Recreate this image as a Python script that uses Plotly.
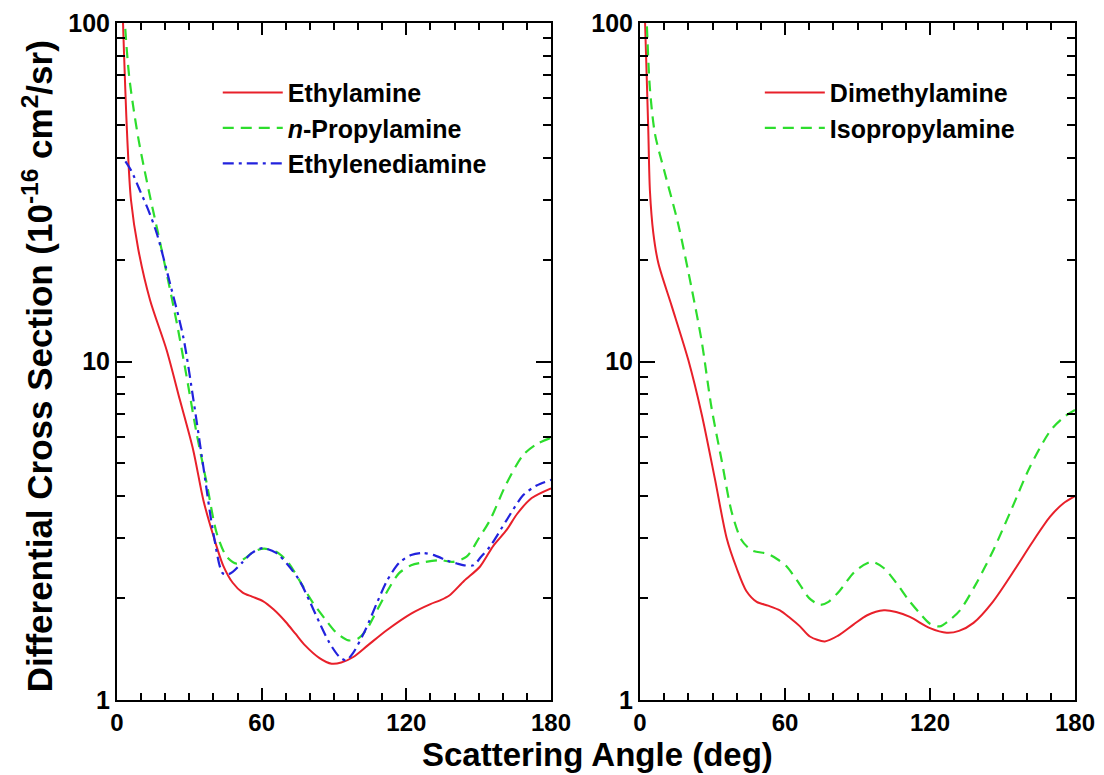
import plotly.graph_objects as go

# ---- data ----
ethylamine_x = [1, 2.5, 3.5, 4.3, 5.8, 8.8, 13.7, 20.6, 26.1, 31.6, 35.8, 40, 44, 48, 52, 56, 60.5, 65, 70, 74, 78, 84, 89, 93, 98, 104, 112, 122, 130, 134, 138, 144, 150.6, 156, 161.6, 166, 172, 180]
ethylamine_y = [250, 100, 62, 45, 30, 21.5, 15.2, 10.8, 7.69, 5.48, 3.9, 3.05, 2.5, 2.22, 2.08, 2.02, 1.96, 1.85, 1.7, 1.57, 1.45, 1.33, 1.28, 1.29, 1.34, 1.45, 1.61, 1.8, 1.92, 1.97, 2.04, 2.25, 2.48, 2.85, 3.18, 3.55, 3.95, 4.22]

npropyl_x = [2, 3.3, 5, 7, 9, 11, 14, 17, 20.6, 24.8, 28.9, 33, 37.2, 41.4, 45.5, 49.6, 53, 57, 61, 66, 71, 75.6, 81, 86.7, 91, 96, 100, 103.4, 108, 113, 117, 122, 127, 134, 139.4, 145, 150, 154.7, 161.6, 168.5, 174, 180]
npropyl_y = [200, 100, 70, 55, 45, 38, 30, 24, 18.2, 13, 9.0, 6.14, 4.37, 3.1, 2.65, 2.53, 2.62, 2.75, 2.8, 2.74, 2.55, 2.26, 1.95, 1.72, 1.58, 1.50, 1.52, 1.61, 1.85, 2.15, 2.37, 2.5, 2.55, 2.59, 2.56, 2.65, 3.0, 3.4, 4.37, 5.3, 5.7, 5.95]

ethylened_x = [3.5, 6, 9.5, 13, 16.5, 22, 27.5, 31.7, 35.8, 40, 43.8, 46, 48, 52, 56, 60.3, 66, 71, 75.6, 80, 84, 88, 92.3, 95, 98, 103, 108, 112, 117, 122, 126.8, 132, 137, 141, 144, 147.8, 151, 154.7, 161.6, 168.5, 174, 180]
ethylened_y = [39, 36.5, 32, 28, 23.9, 17, 11.8, 7.7, 4.89, 3.1, 2.37, 2.35, 2.39, 2.55, 2.72, 2.81, 2.72, 2.5, 2.26, 1.95, 1.69, 1.48, 1.34, 1.31, 1.38, 1.61, 1.95, 2.25, 2.54, 2.68, 2.72, 2.67, 2.58, 2.53, 2.5, 2.5, 2.65, 2.84, 3.4, 4.03, 4.3, 4.47]

dimethyl_x = [1, 2.1, 3.4, 4.1, 5.5, 7.6, 13.1, 20, 25.5, 31, 35.9, 40, 44, 48.3, 53, 57.9, 62, 66.2, 70.3, 76.5, 82, 88.3, 94, 100.9, 106, 111.7, 120, 126.9, 132, 138, 146, 155.9, 162, 169.7, 175, 180]
dimethyl_y = [180, 100, 49, 32, 24, 19.5, 14.6, 10.1, 7.0, 4.5, 3.0, 2.45, 2.1, 1.95, 1.9, 1.84, 1.75, 1.65, 1.54, 1.49, 1.55, 1.67, 1.78, 1.84, 1.82, 1.76, 1.63, 1.58, 1.6, 1.69, 1.95, 2.48, 2.9, 3.48, 3.8, 4.0]

isopropyl_x = [1.5, 2.8, 4.1, 6.2, 10.3, 15.8, 21.4, 25.5, 29.6, 33.8, 37.9, 42, 46.2, 53, 57, 60.7, 66, 70, 74.5, 78, 82.8, 89, 95.9, 101, 106.2, 111, 115.9, 120, 124, 128, 132.4, 139, 146.2, 154, 161.4, 170, 176, 180]
isopropyl_y = [180, 100, 64, 47, 36, 25.5, 16.4, 11.5, 7.3, 5.1, 3.6, 2.97, 2.77, 2.7, 2.6, 2.48, 2.2, 2.0, 1.91, 1.95, 2.11, 2.4, 2.56, 2.45, 2.21, 1.98, 1.8, 1.68, 1.65, 1.72, 1.84, 2.2, 2.77, 3.7, 4.89, 6.27, 6.9, 7.19]

x_tickvals = [0, 60, 120, 180]
x_minor = [10, 20, 30, 40, 50, 70, 80, 90, 100, 110, 130, 140, 150, 160, 170]
y_tickvals = [1, 10, 100]
y_ticktext = ["1", "10", "100"]
y_minor = [2, 3, 4, 5, 6, 7, 8, 9, 20, 30, 40, 50, 60, 70, 80, 90]

RED = "#e8202a"
GREEN = "#2ddd2d"
BLUE = "#2222dd"
FONT = "Liberation Sans"
W, H = 1104, 775
OFF = 8  # page body margin in the browser

fig = go.Figure()
fig.add_trace(go.Scatter(x=ethylamine_x, y=ethylamine_y, name="Ethylamine", mode="lines",
                         line=dict(color=RED, width=2, shape="spline", smoothing=0.8),
                         xaxis="x", yaxis="y", legend="legend"))
fig.add_trace(go.Scatter(x=npropyl_x, y=npropyl_y, name="<i>n</i>-Propylamine", mode="lines",
                         line=dict(color=GREEN, width=2.2, dash="11px,7px", shape="spline", smoothing=0.8),
                         xaxis="x", yaxis="y", legend="legend"))
fig.add_trace(go.Scatter(x=ethylened_x, y=ethylened_y, name="Ethylenediamine", mode="lines",
                         line=dict(color=BLUE, width=2.2, dash="11px,5px,3px,5px", shape="spline", smoothing=0.8),
                         xaxis="x", yaxis="y", legend="legend"))
fig.add_trace(go.Scatter(x=dimethyl_x, y=dimethyl_y, name="Dimethylamine", mode="lines",
                         line=dict(color=RED, width=2, shape="spline", smoothing=0.8),
                         xaxis="x2", yaxis="y2", legend="legend2"))
fig.add_trace(go.Scatter(x=isopropyl_x, y=isopropyl_y, name="Isopropylamine", mode="lines",
                         line=dict(color=GREEN, width=2.2, dash="11px,7px", shape="spline", smoothing=0.8),
                         xaxis="x2", yaxis="y2", legend="legend2"))

def xaxis(domain, anchor):
    return dict(domain=domain, anchor=anchor, range=[0, 180], tickmode="array", tickvals=x_tickvals,
                ticks="inside", ticklen=12, tickwidth=2, tickcolor="black",
                minor=dict(tickmode="array", tickvals=x_minor, ticks="inside", ticklen=7, tickwidth=2, tickcolor="black"),
                showline=True, linecolor="black", linewidth=2, mirror="allticks",
                showgrid=False, zeroline=False, automargin=False,
                tickfont=dict(family=FONT, size=24, color="black", weight="bold"))

def yaxis(anchor):
    return dict(anchor=anchor, type="log", range=[0, 2], tickmode="array", tickvals=y_tickvals, ticktext=y_ticktext,
                ticks="inside", ticklen=15, tickwidth=2, tickcolor="black",
                minor=dict(tickmode="array", tickvals=y_minor, ticks="inside", ticklen=8, tickwidth=2, tickcolor="black"),
                showline=True, linecolor="black", linewidth=2, mirror="allticks",
                showgrid=False, zeroline=False, automargin=False,
                tickfont=dict(family=FONT, size=25, color="black", weight="bold"))

legend_font = dict(family=FONT, size=25, color="black", weight="bold")

fig.update_layout(
    width=W, height=H,
    margin=dict(l=0, r=0, t=23 - OFF, b=H - (700 - OFF), autoexpand=False),
    paper_bgcolor="white", plot_bgcolor="white",
    xaxis=xaxis([(117 - OFF) / W, (551 - OFF) / W], "y"),
    yaxis=yaxis("x"),
    xaxis2=xaxis([(640 - OFF) / W, (1075 - OFF) / W], "y2"),
    yaxis2=yaxis("x2"),
    legend=dict(x=0.19, y=0.931, xanchor="left", yanchor="top", font=legend_font,
                bgcolor="rgba(0,0,0,0)", itemwidth=60, tracegroupgap=0),
    legend2=dict(x=0.681, y=0.931, xanchor="left", yanchor="top", font=legend_font,
                 bgcolor="rgba(0,0,0,0)", itemwidth=60, tracegroupgap=0),
    showlegend=True,
    annotations=[
        dict(text="<b>Differential Cross Section (10<sup>-16</sup> cm<sup>2</sup>/sr)</b>",
             xref="paper", yref="paper", x=(38 - OFF) / W, y=0.493, xanchor="center", yanchor="middle",
             textangle=-90, showarrow=False, font=dict(family=FONT, size=35, color="black")),
        dict(text="<b>Scattering Angle (deg)</b>",
             xref="paper", yref="paper", x=(597 - OFF) / W, y=-54 / 677, xanchor="center", yanchor="middle",
             showarrow=False, font=dict(family=FONT, size=33, color="black")),
    ],
)

fig.write_html("out.html")
